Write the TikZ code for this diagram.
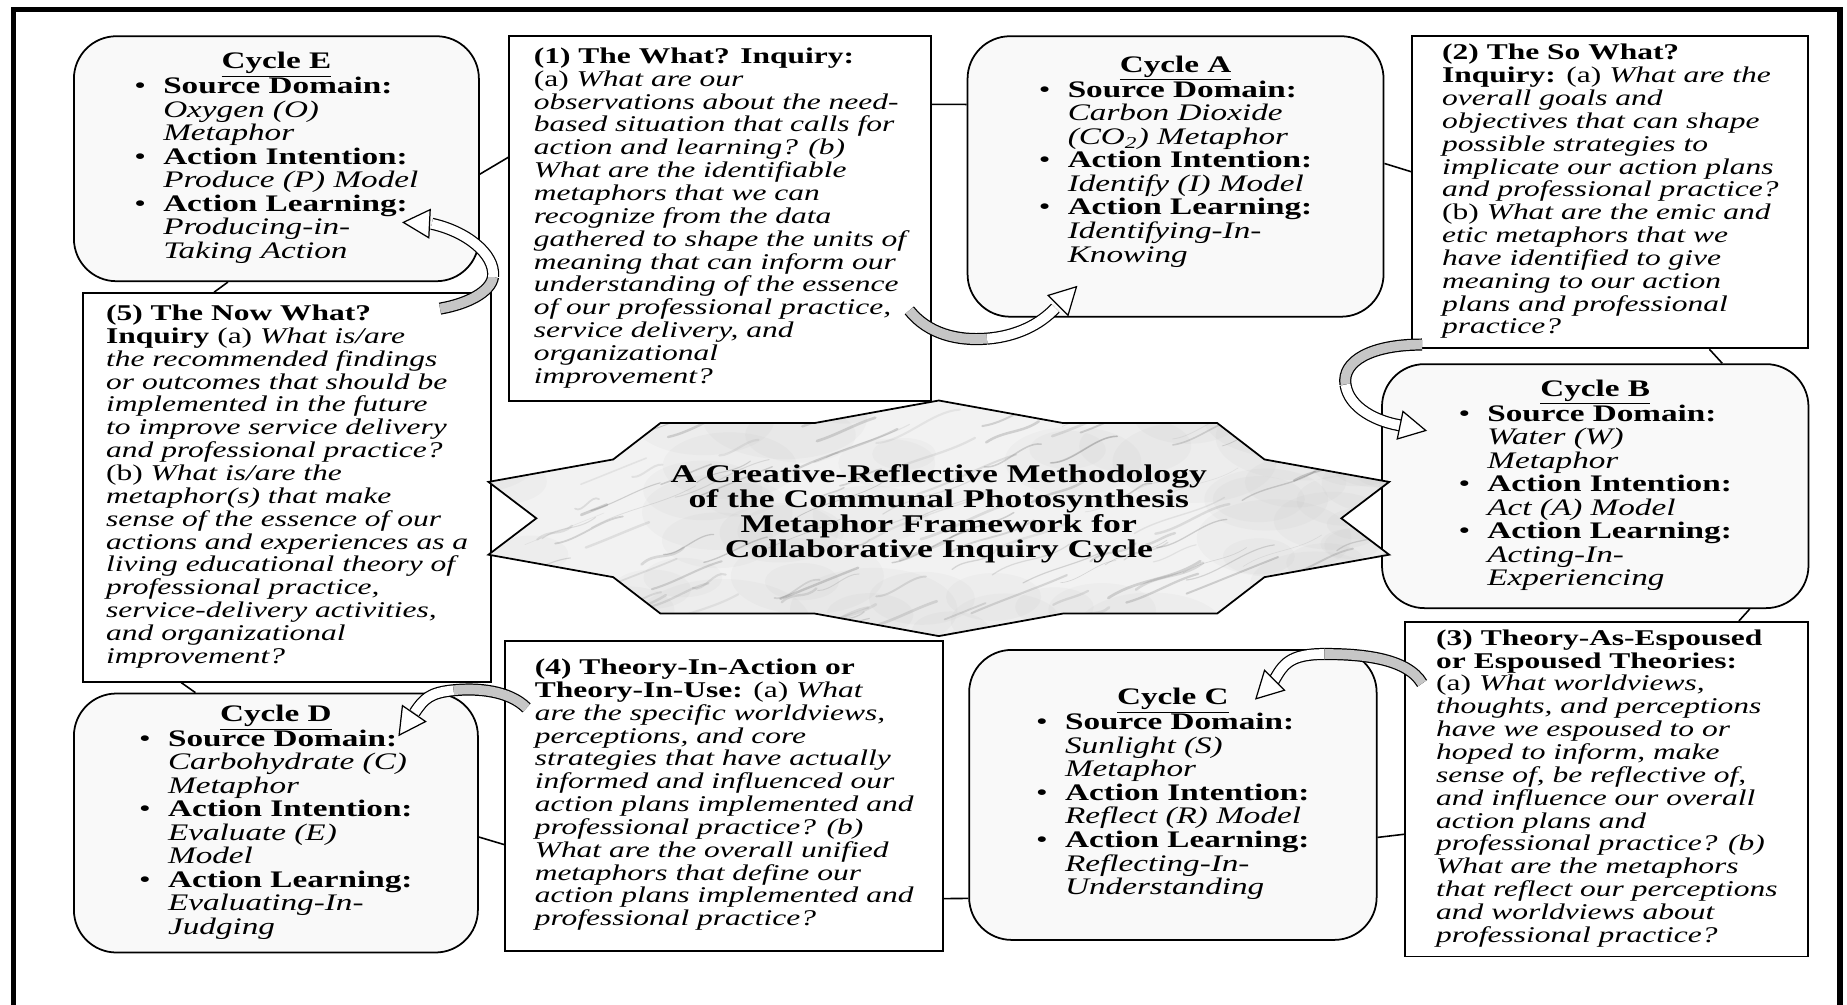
\documentclass[tikz,border=0pt]{standalone}
\usepackage{fontspec}
\setmainfont{Liberation Serif}
\usepackage{graphicx,array}
\usetikzlibrary{arrows.meta,positioning,calc}

% all type in this figure is set a little wide
\newcommand{\sx}{1.4}
\newcommand{\wide}[1]{\scalebox{\sx}[1]{#1}}
\newcommand{\hd}[1]{\textup{\bfseries #1}}
% question boxes: one row per printed line, italic by default
\newcommand{\qtext}[1]{\wide{\begin{tabular}{@{}>{\itshape}l@{}}#1\end{tabular}}}
% cycle boxes: underlined heading and three bullets
\newcommand{\ctext}[4]{\wide{\begin{tabular}{@{}l@{\hspace{7pt}}>{\itshape}l@{}}
 \multicolumn{2}{c}{\textbf{\underline{Cycle #1}}}\\
 \textbullet & \hd{Source Domain:}\\ #2
 \textbullet & \hd{Action Intention:}\\ #3
 \textbullet & \hd{Action Learning:}\\ #4
\end{tabular}}}

\begin{document}
\begin{tikzpicture}[x=0.02356cm,y=-0.02356cm,
 cyc/.style={draw,line width=1pt,fill=gray!5,rounded corners=0.85cm,inner sep=0pt,
  font=\fontsize{13.5}{13.3}\selectfont},
 qbox/.style={draw,line width=1.1pt,fill=white,inner sep=0pt,
  font=\fontsize{12.8}{13}\selectfont},
 link/.style={line width=0.9pt},
 band/.style={line width=0.7pt,double=gray!45,double distance=5.5pt},
 bandw/.style={band,double=white},
 head/.style={white,line width=0.5pt,
  -{Triangle[color=black,fill=white,length=16pt,width=17pt,line width=0.7pt]}}]
\useasboundingbox (0,0) rectangle (1568,853);
\draw[line width=3pt] (11.5,853) -- (11.5,8) -- (1562,8) -- (1562,853);

% cycles and inquiry boxes, clockwise from the top left
\node[cyc,minimum width=8.10cm,minimum height=4.90cm,anchor=north west] (ce) at (62,30)
 {\ctext{E}{& Oxygen (O)\\ & Metaphor\\}{& Produce (P) Model\\}{& Producing-in-\\ & Taking Action\\}};
\node[qbox,minimum width=8.43cm,minimum height=7.30cm,right=0.57cm of ce.north east,anchor=north west] (q1)
 {\qtext{\hd{(1) The What? Inquiry:}\\
 \textup{(a)} What are our\\
 observations about the need-\\
 based situation that calls for\\
 action and learning? (b)\\
 What are the identifiable\\
 metaphors that we can\\
 recognize from the data\\
 gathered to shape the units of\\
 meaning that can inform our\\
 understanding of the essence\\
 of our professional practice,\\
 service delivery, and\\
 organizational\\
 improvement?}};
\node[cyc,minimum width=8.32cm,minimum height=5.61cm,right=0.70cm of q1.north east,anchor=north west] (ca)
 {\ctext{A}{& Carbon Dioxide\\ & (CO\textsubscript{2}) Metaphor\\}{& Identify (I) Model\\}{& Identifying-In-\\ & Knowing\\[16pt]}};
\node[qbox,minimum width=7.92cm,minimum height=6.24cm,right=0.54cm of ca.north east,anchor=north west] (q2)
 {\qtext{\hd{(2) The So What?}\\
 \hd{Inquiry:} \textup{(a)} What are the\\
 overall goals and\\
 objectives that can shape\\
 possible strategies to\\
 implicate our action plans\\
 and professional practice?\\
 \textup{(b)} What are the emic and\\
 etic metaphors that we\\
 have identified to give\\
 meaning to our action\\
 plans and professional\\
 practice?}};
\node[cyc,minimum width=8.53cm,minimum height=4.88cm,below=0.28cm of q2.south east,anchor=north east] (cb)
 {\ctext{B}{& Water (W)\\ & Metaphor\\}{& Act (A) Model\\}{& Acting-In-\\ & Experiencing\\}};
\node[qbox,minimum width=8.06cm,minimum height=6.69cm,below=0.24cm of cb.south east,anchor=north east] (q3)
 {\qtext{\hd{(3) Theory-As-Espoused}\\
 \hd{or Espoused Theories:}\\
 \textup{(a)} What worldviews,\\
 thoughts, and perceptions\\
 have we espoused to or\\
 hoped to inform, make\\
 sense of, be reflective of,\\
 and influence our overall\\
 action plans and\\
 professional practice? (b)\\
 What are the metaphors\\
 that reflect our perceptions\\
 and worldviews about\\
 professional practice?}};
\node[cyc,minimum width=8.15cm,minimum height=5.80cm,anchor=north west] (cc) at (822,551)
 {\ctext{C}{& Sunlight (S)\\ & Metaphor\\}{& Reflect (R) Model\\}{& Reflecting-In-\\ & Understanding\\}};
\node[qbox,minimum width=8.76cm,minimum height=6.20cm,anchor=north west] (q4) at (428,543)
 {\qtext{\hd{(4) Theory-In-Action or}\\
 \hd{Theory-In-Use:} \textup{(a)} What\\
 are the specific worldviews,\\
 perceptions, and core\\
 strategies that have actually\\
 informed and influenced our\\
 action plans implemented and\\
 professional practice? (b)\\
 What are the overall unified\\
 metaphors that define our\\
 action plans implemented and\\
 professional practice?}};
\node[cyc,minimum width=8.08cm,minimum height=5.18cm,anchor=north west] (cd) at (62,588)
 {\ctext{D}{& Carbohydrate (C)\\ & Metaphor\\}{& Evaluate (E)\\ & Model\\}{& Evaluating-In-\\ & Judging\\}};
\node[qbox,minimum width=8.15cm,minimum height=7.77cm,anchor=north west] (q5) at (70,248)
 {\qtext{\hd{(5) The Now What?}\\
 \hd{Inquiry} \textup{(a)} What is/are\\
 the recommended findings\\
 or outcomes that should be\\
 implemented in the future\\
 to improve service delivery\\
 and professional practice?\\
 \textup{(b)} What is/are the\\
 metaphor(s) that make\\
 sense of the essence of our\\
 actions and experiences as a\\
 living educational theory of\\
 professional practice,\\
 service-delivery activities,\\
 and organizational\\
 improvement?}};

% ten-point star in the middle, marbled
\coordinate (sc) at (797,440);
\foreach \k in {0,...,19}{
 \pgfmathsetmacro\rr{mod(\k,2)==0 ? 1 : 0.85}
 \coordinate (s\k) at ($(sc)+({90-18*\k}:{402*\rr} and {100*\rr})$);
}
\begin{scope}
 \clip (s0) \foreach \k in {1,...,19}{ -- (s\k) } -- cycle;
 \fill[gray!10] (380,330) rectangle (1220,555);
 \pgfmathsetseed{2718}
 \foreach \i in {1,...,70}{
  \pgfmathsetmacro\vx{390+820*rnd}
  \pgfmathsetmacro\vy{330+230*rnd}
  \pgfmathsetmacro\vr{15+30*rnd}
  \fill[gray,opacity=.04] (\vx,\vy) ellipse ({\vr*0.04cm} and {\vr*0.02cm});
 }
 \foreach \i in {1,...,160}{
  \pgfmathsetmacro\vx{390+820*rnd}
  \pgfmathsetmacro\vy{330+230*rnd}
  \pgfmathsetmacro\vl{20+70*rnd}
  \pgfmathsetmacro\vw{0.3+1.4*rnd}
  \pgfmathsetmacro\vg{30+45*rnd}
  \pgfmathsetmacro\va{8*rand}
  \draw[black!\vg,line width=\vw pt,opacity=.22,line cap=round]
   (\vx,\vy) .. controls +(\vl/3,\va-\vl/8) and +(-\vl/3,\vl/8-\va) .. +(\vl,-0.4*\vl);
 }
\end{scope}
\draw[line width=1pt] (s0) \foreach \k in {1,...,19}{ -- (s\k) } -- cycle;
\node[font=\fontsize{14.5}{13.6}\selectfont\bfseries] (title) at ([yshift=0.07cm]sc)
 {\wide{\begin{tabular}{c}A Creative-Reflective Methodology\\
 of the Communal Photosynthesis\\ Metaphor Framework for\\
 Collaborative Inquiry Cycle\end{tabular}}};

% short links round the ring
\draw[link] ([yshift=-0.31cm]ce.east) -- ([yshift=1.23cm]q1.west);
\draw[link] ([yshift=2.29cm]q1.east) -- ([yshift=1.44cm]ca.west);
\draw[link] ([yshift=0.26cm]ca.east) -- ([yshift=0.41cm]q2.west);
\draw[link] ([xshift=1.98cm]q2.south) -- ([xshift=2.54cm]cb.north);
\draw[link] ([xshift=3.09cm]cb.south) -- ([xshift=2.64cm]q3.north);
\draw[link] ([yshift=-0.90cm]q3.west) -- ([yshift=-0.85cm]cc.east);
\draw[link] ([yshift=-2.07cm]cc.west) -- ([yshift=-2.06cm]q4.east);
\draw[link] ([yshift=-0.98cm]q4.west) -- ([yshift=-0.28cm]cd.east);
\draw[link] ([xshift=-1.61cm]cd.north) -- ([xshift=-2.12cm]q5.south);
\draw[link] ([xshift=-1.46cm]q5.north) -- ([xshift=-0.97cm]ce.south);

% curved block arrows: question box -> next cycle
\coordinate (tA) at ([shift={(-19,-78)}]q1.south east);
\coordinate (mA) at ([shift={(66,24)}]tA);
\coordinate (hA) at ([shift={(124,-2)}]tA);
\coordinate (pA) at ([shift={(94,-27)}]ca.south west);
\draw[band] (tA) .. controls +(16,20) and +(-25,2) .. (mA);
\draw[bandw] (mA) .. controls +(25,-2) and +(-13,14) .. (hA);
\draw[head] (hA) -- (pA);

\coordinate (tB) at ([shift={(9,-4)}]q2.south west);
\coordinate (mB) at ([shift={(-65,34)}]tB);
\coordinate (hB) at ([shift={(-16,69)}]tB);
\coordinate (pB) at ([shift={(39,-47)}]cb.west);
\draw[band] (tB) .. controls +(-43,0) and +(-3,-20) .. (mB);
\draw[bandw] (mB) .. controls +(3,20) and +(-22,-3) .. (hB);
\draw[head] (hB) -- (pB);

\coordinate (tC) at ([shift={(15,53)}]q3.north west);
\coordinate (mC) at ([shift={(-83,-25)}]tC);
\coordinate (hC) at ([shift={(-126,-2)}]tC);
\coordinate (pC) at ([shift={(-104,43)}]cc.north east);
\draw[band] (tC) .. controls +(-13,-22) and +(30,0) .. (mC);
\draw[bandw] (mC) .. controls +(-30,0) and +(8,-14) .. (hC);
\draw[head] (hC) -- (pC);

\coordinate (tD) at ([shift={(19,58)}]q4.north west);
\coordinate (mD) at ([shift={(-62,-15)}]tD);
\coordinate (hD) at ([shift={(-95,4)}]tD);
\coordinate (pD) at ([shift={(104,37)}]cd.north);
\draw[band] (tD) .. controls +(-15,-15) and +(20,-2) .. (mD);
\draw[bandw] (mD) .. controls +(-20,2) and +(8,-12) .. (hD);
\draw[head] (hD) -- (pD);

\coordinate (tE) at ([shift={(-44,14)}]q5.north east);
\coordinate (mE) at ([shift={(45,-27)}]tE);
\coordinate (hE) at ([shift={(-7,-72)}]tE);
\coordinate (pE) at ([shift={(-66,54)}]ce.east);
\draw[band] (tE) .. controls +(23,-4) and +(-2,13) .. (mE);
\draw[bandw] (mE) .. controls +(2,-20) and +(28,6) .. (hE);
\draw[head] (hE) -- (pE);
\end{tikzpicture}
\end{document}
